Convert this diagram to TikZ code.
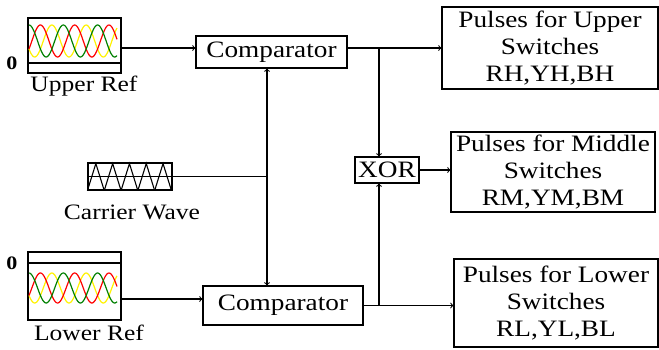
\documentclass[tikz,border=0pt]{standalone}
\usepackage{fontspec}
\setmainfont{Liberation Serif}[FakeStretch=1.16]
\begin{document}
\begin{tikzpicture}[
    x=1pt, y=-1pt,
    font=\fontsize{22}{27}\selectfont,
    box/.style={draw, line width=1.1pt, rectangle, inner sep=0pt, align=center, font=\fontsize{23.5}{27}\selectfont},
    refbox/.style={draw, line width=1.1pt, rectangle, inner sep=0pt},
    zero/.style={font=\fontsize{19}{19}\selectfont\bfseries},
    wave/.style={line width=1.2pt},
    line/.style={line width=1.1pt},
    arrow/.style={->, line width=1.1pt}
]
    \useasboundingbox (0,0) rectangle (659,349);

    % Reference and carrier waves
    \node[refbox, minimum width=93pt, minimum height=55pt] (ref1) at (74.5,45.5) {};
    \node[refbox, minimum width=93pt, minimum height=68pt] (ref2) at (74.5,286) {};
    \node[refbox, minimum width=84pt, minimum height=27pt] (car) at (130,176.5) {};
    \node[anchor=base] (ref1lbl) at (84,91) {Upper Ref};
    \node[anchor=base] (carlbl) at (132,219) {Carrier Wave};
    \node[anchor=base] (ref2lbl) at (89,340) {Lower Ref};
    \node[zero] (zero1) at (12,63) {0};
    \node[zero] (zero2) at (12,263) {0};

    % Zero lines
    \draw[line width=1.6pt] (28,63) -- (121,63);
    \draw[line width=1.6pt] (28,263) -- (121,263);

    % Sine references
    \draw[wave, yellow] plot[domain=0:88, samples=90] ({29+\x}, {41-16*sin(10.5*\x+210)});
    \draw[wave, red] plot[domain=0:88, samples=90] ({29+\x}, {41-16*sin(10.5*\x-30)});
    \draw[wave, green!50!black] plot[domain=0:88, samples=90] ({29+\x}, {41-16*sin(10.5*\x+90)});
    \draw[wave, yellow] plot[domain=0:88, samples=90] ({29+\x}, {288-15*sin(10.5*\x+210)});
    \draw[wave, red] plot[domain=0:88, samples=90] ({29+\x}, {288-15*sin(10.5*\x-30)});
    \draw[wave, green!50!black] plot[domain=0:88, samples=90] ({29+\x}, {288-15*sin(10.5*\x+90)});

    % Triangle carrier
    \foreach \i in {0,...,4}
        \draw[line] ([xshift=\i*16.8pt]car.south west) -- ++(8.4,-27) -- ++(8.4,27);

    % Comparators and XOR
    \node[box, minimum width=151pt, minimum height=32pt] (comp1) at (271.5,52) {Comparator};
    \node[box, minimum width=160pt, minimum height=39pt] (comp2) at (283,305.5) {Comparator};
    \node[box, minimum width=64pt, minimum height=26pt] (xor) at (387,170) {XOR};

    % Pulse outputs
    \node[box, minimum width=216pt, minimum height=82pt] (pu) at (550,48) {Pulses for Upper\\Switches\\RH,YH,BH};
    \node[box, minimum width=204pt, minimum height=80pt] (pm) at (553,172) {Pulses for Middle\\Switches\\RM,YM,BM};
    \node[box, minimum width=204pt, minimum height=88pt] (pl) at (556,303) {Pulses for Lower\\Switches\\RL,YL,BL};

    % Junctions
    \coordinate (u1) at ([yshift=-2.5pt]ref1.east);
    \coordinate (l1) at ([yshift=-13pt]ref2.east);
    \coordinate (jc) at (267,176.5);
    \coordinate (j1) at (379,48);
    \coordinate (j2) at (comp2.east -| j1);

    % Arrows
    \draw[arrow] (u1) -- (u1 -| comp1.west);
    \draw[arrow] (l1) -- (l1 -| comp2.west);
    \draw[line] (car.west) -- (jc);
    \draw[arrow] (jc) -- (jc |- comp1.south);
    \draw[arrow] (jc) -- (jc |- comp2.north);
    \draw[arrow] (pu.west -| comp1.east) -- (pu.west);
    \draw[arrow] (comp2.east) -- (comp2.east -| pl.west);
    \draw[arrow] (j1) -- (j1 |- xor.north);
    \draw[arrow] (j2) -- (j2 |- xor.south);
    \draw[arrow] (xor.east) -- (xor.east -| pm.west);
\end{tikzpicture}
\end{document}
